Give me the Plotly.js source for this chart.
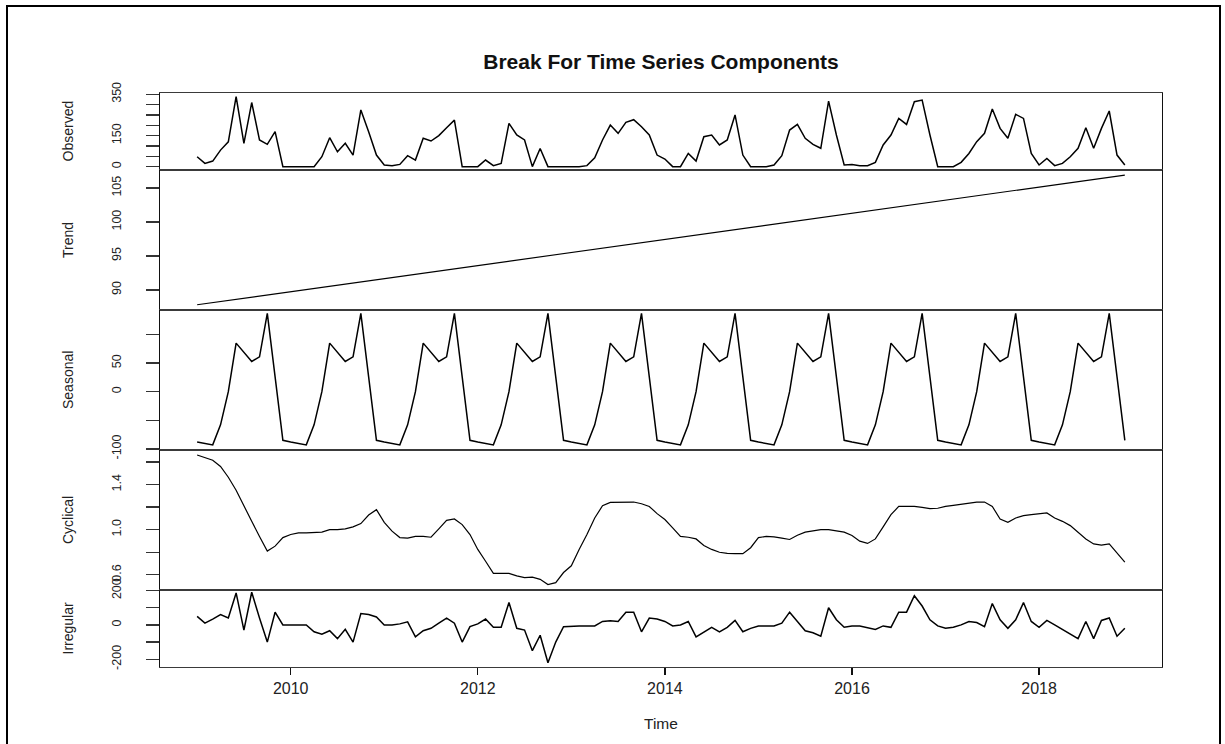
<!DOCTYPE html>
<html>
<head>
<meta charset="utf-8">
<script src="https://cdn.plot.ly/plotly-3.0.1.min.js"></script>
<style>
  html, body { margin: 0; padding: 0; background: #fff; }
  #chart { position: absolute; left: 0; top: 0; width: 1225px; height: 744px; }
  #frame { position: absolute; left: 6px; top: 5px; width: 1215px; height: 760px;
           border: 2px solid #000; box-sizing: border-box; pointer-events: none; z-index: 5; }
</style>
</head>
<body>
<div id="chart"></div>
<div id="frame"></div>
<script>
// ---- time index (monthly, Jan 2009 .. Dec 2018) ----
const years = [2009, 2010, 2011, 2012, 2013, 2014, 2015, 2016, 2017, 2018];
const monthIndex = [0, 1, 2, 3, 4, 5, 6, 7, 8, 9, 10, 11];

// ---- series values ----
const observed = [
  48, 16, 27, 80, 120, 338, 113, 310, 129, 108, 169, 0,
  0, 0, 0, 0, 48, 140, 72, 113, 56, 274, 169, 56,
  8, 5, 11, 53, 32, 137, 124, 150, 188, 225, 0, 0,
  0, 32, 5, 16, 209, 153, 129, 0, 88, 0, 0, 0,
  0, 0, 5, 43, 129, 201, 161, 214, 227, 193, 153, 56,
  37, 0, 0, 64, 27, 145, 153, 105, 129, 250, 56, 0,
  0, 0, 8, 53, 177, 204, 137, 108, 89, 317, 153, 8,
  11, 5, 5, 21, 105, 153, 233, 204, 314, 322, 153, 0,
  0, 0, 21, 64, 121, 161, 279, 185, 137, 253, 233, 64,
  8, 40, 5, 16, 48, 89, 188, 89, 185, 269, 56, 8
];

const trend = [
  87.80, 87.96, 88.12, 88.28, 88.44, 88.60, 88.76, 88.92, 89.08, 89.24, 89.41, 89.57,
  89.73, 89.89, 90.05, 90.21, 90.37, 90.53, 90.69, 90.85, 91.01, 91.17, 91.33, 91.49,
  91.65, 91.81, 91.97, 92.13, 92.29, 92.45, 92.62, 92.78, 92.94, 93.10, 93.26, 93.42,
  93.58, 93.74, 93.90, 94.06, 94.22, 94.38, 94.54, 94.70, 94.86, 95.02, 95.18, 95.34,
  95.50, 95.66, 95.83, 95.99, 96.15, 96.31, 96.47, 96.63, 96.79, 96.95, 97.11, 97.27,
  97.43, 97.59, 97.75, 97.91, 98.07, 98.23, 98.39, 98.55, 98.71, 98.87, 99.04, 99.20,
  99.36, 99.52, 99.68, 99.84, 100.00, 100.16, 100.32, 100.48, 100.64, 100.80, 100.96, 101.12,
  101.28, 101.44, 101.60, 101.76, 101.92, 102.08, 102.25, 102.41, 102.57, 102.73, 102.89, 103.05,
  103.21, 103.37, 103.53, 103.69, 103.85, 104.01, 104.17, 104.33, 104.49, 104.65, 104.81, 104.97,
  105.13, 105.29, 105.46, 105.62, 105.78, 105.94, 106.10, 106.26, 106.42, 106.58, 106.74, 106.90
];

const seasonal = [
  -88, -90, -93, -58, 0, 85, 69, 53, 61, 137, 26, -85,
  -88, -90, -93, -58, 0, 85, 69, 53, 61, 137, 26, -85,
  -88, -90, -93, -58, 0, 85, 69, 53, 61, 137, 26, -85,
  -88, -90, -93, -58, 0, 85, 69, 53, 61, 137, 26, -85,
  -88, -90, -93, -58, 0, 85, 69, 53, 61, 137, 26, -85,
  -88, -90, -93, -58, 0, 85, 69, 53, 61, 137, 26, -85,
  -88, -90, -93, -58, 0, 85, 69, 53, 61, 137, 26, -85,
  -88, -90, -93, -58, 0, 85, 69, 53, 61, 137, 26, -85,
  -88, -90, -93, -58, 0, 85, 69, 53, 61, 137, 26, -85,
  -88, -90, -93, -58, 0, 85, 69, 53, 61, 137, 26, -85
];

const cyclical = [
  1.662, 1.640, 1.615, 1.560, 1.465, 1.350, 1.206, 1.074, 0.940, 0.810, 0.854, 0.930,
  0.957, 0.972, 0.972, 0.972, 0.978, 1.000, 1.000, 1.007, 1.025, 1.054, 1.130, 1.177,
  1.065, 0.987, 0.930, 0.925, 0.940, 0.940, 0.933, 1.007, 1.083, 1.095, 1.045, 0.957,
  0.825, 0.720, 0.613, 0.613, 0.613, 0.590, 0.575, 0.580, 0.560, 0.513, 0.530, 0.620,
  0.680, 0.825, 0.957, 1.104, 1.212, 1.242, 1.245, 1.245, 1.245, 1.230, 1.206, 1.142,
  1.090, 1.016, 0.940, 0.933, 0.918, 0.860, 0.825, 0.800, 0.790, 0.787, 0.787, 0.840,
  0.930, 0.940, 0.936, 0.925, 0.913, 0.950, 0.978, 0.990, 1.000, 1.000, 0.990, 0.978,
  0.948, 0.898, 0.878, 0.918, 1.025, 1.133, 1.206, 1.206, 1.206, 1.197, 1.186, 1.190,
  1.206, 1.215, 1.227, 1.236, 1.245, 1.245, 1.206, 1.095, 1.065, 1.104, 1.124, 1.133,
  1.142, 1.148, 1.104, 1.074, 1.036, 0.978, 0.918, 0.874, 0.863, 0.874, 0.790, 0.713
];

const irregular = [
  50, 10, 34, 60, 40, 186, -30, 190, 40, -100, 74, 0,
  0, 0, 0, -40, -54, -34, -80, -26, -100, 66, 60, 46,
  0, 0, 6, 18, -70, -34, -20, 10, 40, 10, -100, -10,
  6, 34, -14, -14, 130, -20, -30, -150, -60, -220, -100, -10,
  -6, -6, -6, -6, 20, 24, 20, 74, 74, -40, 40, 34,
  20, -6, 0, 20, -70, -40, -14, -40, -14, 26, -40, -20,
  -6, -6, -6, 10, 74, 20, -34, -46, -66, 100, 30, -14,
  -6, -6, -14, -26, -6, -14, 74, 74, 170, 110, 30, -6,
  -20, -14, 0, 20, 14, -10, 124, 30, -20, 30, 130, 20,
  -14, 26, 0, -26, -54, -80, 20, -80, 26, 40, -66, -20
];

// ---- axis labels ----
const panelNames = ['Observed', 'Trend', 'Seasonal', 'Cyclical', 'Irregular'];
const xTickVals = [2010, 2012, 2014, 2016, 2018];
const xTickText = ['2010', '2012', '2014', '2016', '2018'];
const obsTickVals = [0, 50, 100, 150, 200, 250, 300, 350];
const obsTickText = ['0', '', '', '150', '', '', '', '350'];
const trendTickVals = [90, 95, 100, 105];
const trendTickText = ['90', '95', '100', '105'];
const seasTickVals = [-100, -50, 0, 50, 100];
const seasTickText = ['-100', '', '0', '50', ''];
const cycTickVals = [0.6, 0.8, 1.0, 1.2, 1.4, 1.6];
const cycTickText = ['0.6', '', '1.0', '', '1.4', ''];
const irrTickVals = [-200, -100, 0, 100, 200];
const irrTickText = ['-200', '', '0', '', '200'];

// time axis values built from the year and month lists
const time = [];
years.forEach(y => monthIndex.forEach(m => time.push(y + m / 12)));

const seriesList = [observed, trend, seasonal, cyclical, irregular];
const lineWidths = [1.5, 1.1, 1.5, 1.2, 1.5];

const traces = seriesList.map((s, k) => ({
  type: 'scatter', mode: 'lines',
  x: time, y: s,
  xaxis: 'x' + (k + 1), yaxis: 'y' + (k + 1),
  line: { color: '#000', width: lineWidths[k] },
  hoverinfo: 'skip', showlegend: false
}));

const FONT = 'Liberation Sans, Arial, Helvetica, sans-serif';
const xRange = [2008.603, 2019.314];
const domains = [[0.8659, 1.0], [0.6220, 0.8659], [0.3780, 0.6220], [0.1341, 0.3780], [0.0, 0.1341]];
const yRanges = [[-16, 356], [87.04, 107.66], [-102, 143], [0.465, 1.706], [-245, 203]];
const yTicks = [[obsTickVals, obsTickText], [trendTickVals, trendTickText], [seasTickVals, seasTickText],
                [cycTickVals, cycTickText], [irrTickVals, irrTickText]];

const layout = {
  width: 1225, height: 744,
  margin: { l: 160, r: 63, t: 93, b: 77, pad: 0 },
  paper_bgcolor: '#fff', plot_bgcolor: '#fff',
  font: { family: FONT, color: '#000' },
  title: {
    text: 'Break For Time Series Components',
    font: { family: FONT, size: 21, weight: 700, color: '#111' },
    x: 0.5, xref: 'paper', xanchor: 'center',
    y: 1 - 62 / 744, yref: 'container', yanchor: 'middle'
  },
  annotations: [],
  showlegend: false
};

for (let k = 0; k < 5; k++) {
  const isBottom = (k === 4);
  layout['xaxis' + (k + 1)] = {
    anchor: 'y' + (k + 1), domain: [0, 1], range: xRange,
    showline: true, mirror: true, linecolor: '#3a3a3a', linewidth: 1,
    showgrid: false, zeroline: false,
    ticks: isBottom ? 'outside' : '', ticklen: 7, tickwidth: 1.3, tickcolor: '#111',
    showticklabels: isBottom,
    tickmode: 'array', tickvals: xTickVals, ticktext: xTickText,
    tickfont: { family: FONT, size: 16, color: '#222' }
  };
  layout['yaxis' + (k + 1)] = {
    anchor: 'x' + (k + 1), domain: domains[k], range: yRanges[k],
    showline: true, mirror: true, linecolor: '#111', linewidth: 1.4,
    showgrid: false, zeroline: false,
    ticks: 'outside', ticklen: 13, tickwidth: 1.3, tickcolor: '#333',
    tickmode: 'array', tickvals: yTicks[k][0], ticktext: yTicks[k][1],
    tickangle: -90, ticklabelstandoff: 20,
    tickfont: { family: FONT, size: 12.5, color: '#222' }
  };
  layout.annotations.push({
    text: panelNames[k], textangle: -90, showarrow: false,
    xref: 'paper', x: 0, xshift: -92, xanchor: 'center',
    yref: 'y' + (k + 1) + ' domain', y: 0.5, yanchor: 'middle',
    font: { family: FONT, size: 14, color: '#222' }
  });
}

layout.annotations.push({
  text: 'Time', showarrow: false,
  xref: 'paper', x: 0.5, xanchor: 'center',
  yref: 'paper', y: -(723 - 667) / 574, yanchor: 'middle',
  font: { family: FONT, size: 15.5, color: '#222' }
});

Plotly.newPlot('chart', traces, layout, { staticPlot: true, displayModeBar: false });
</script>
</body>
</html>
